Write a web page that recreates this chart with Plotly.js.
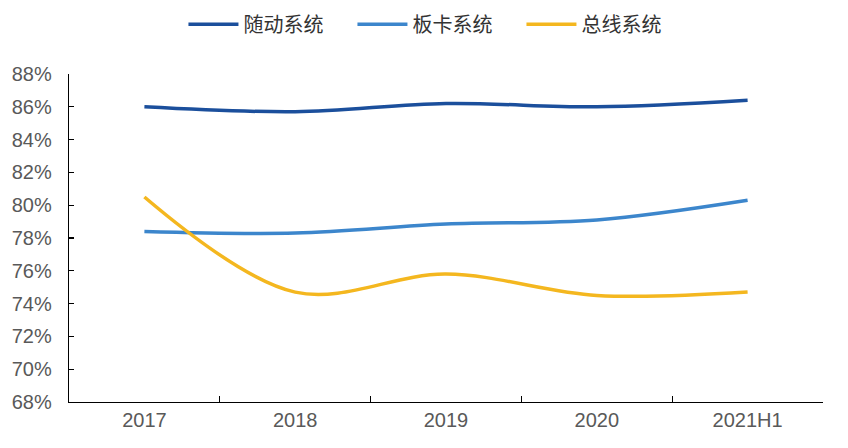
<!DOCTYPE html>
<html>
<head>
<meta charset="utf-8">
<script src="https://cdn.plot.ly/plotly-3.0.1.min.js"></script>
<style>
html,body{margin:0;padding:0;background:#fff;}
#chart{width:848px;height:448px;}
</style>
</head>
<body>
<div id="chart"></div>
<script>
const categories = ["2017", "2018", "2019", "2020", "2021H1"];
const seriesNames = ["随动系统", "板卡系统", "总线系统"];
const suidong = [0.860, 0.857, 0.862, 0.860, 0.864];
const banka = [0.784, 0.783, 0.7885, 0.791, 0.803];
const zongxian = [0.805, 0.747, 0.758, 0.745, 0.747];
const colors = ["#1B4F9C", "#3C86CC", "#F4B71F"];
const yTicks = [0.68, 0.70, 0.72, 0.74, 0.76, 0.78, 0.80, 0.82, 0.84, 0.86, 0.88];

const values = [suidong, banka, zongxian];
const traces = values.map((v, i) => ({
  type: "scatter",
  mode: "lines",
  name: seriesNames[i],
  x: categories,
  y: v,
  line: {color: colors[i], width: 3.5, shape: "spline", smoothing: 1}
}));

const layout = {
  width: 848,
  height: 448,
  margin: {l: 69, r: 25, t: 74, b: 46},
  paper_bgcolor: "#fff",
  plot_bgcolor: "#fff",
  showlegend: true,
  legend: {
    orientation: "h",
    x: 0.488, xanchor: "center",
    y: 0.946, yanchor: "middle",
    xref: "paper", yref: "container",
    font: {family: "Noto Sans CJK SC, sans-serif", size: 20, color: "#333333"},
    itemwidth: 50,
    entrywidth: 104,
    entrywidthmode: "pixels",
    tracegroupgap: 0
  },
  xaxis: {
    type: "category",
    range: [-0.5, 4.5],
    showline: true, linecolor: "#000", linewidth: 1.3,
    ticks: "inside", tickson: "boundaries", ticklen: 6, tickcolor: "#000", tickwidth: 1.3,
    showgrid: false, zeroline: false,
    tickfont: {family: "Liberation Sans, Arial, sans-serif", size: 20, color: "#595959"},
    fixedrange: true
  },
  yaxis: {
    range: [0.68, 0.88],
    tickvals: yTicks,
    tickformat: ".0%",
    showline: true, linecolor: "#000", linewidth: 1.3,
    ticks: "inside", ticklen: 5, tickcolor: "#000", tickwidth: 1.3,
    showgrid: false, zeroline: false,
    ticklabelstandoff: 12,
    tickfont: {family: "Liberation Sans, Arial, sans-serif", size: 20, color: "#595959"},
    fixedrange: true
  }
};

Plotly.newPlot("chart", traces, layout, {displayModeBar: false, staticPlot: true});
</script>
</body>
</html>
